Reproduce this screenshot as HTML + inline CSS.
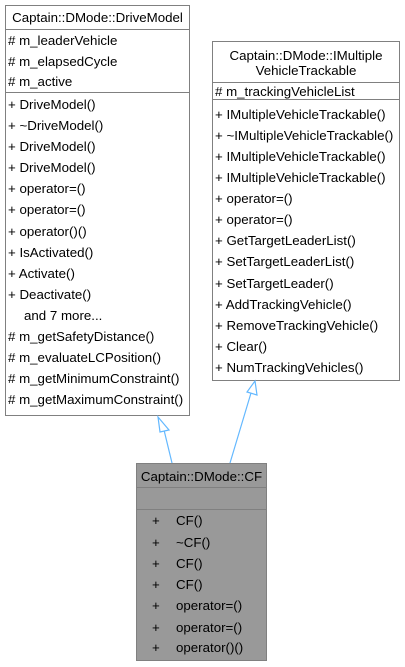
<!DOCTYPE html>
<html><head><meta charset="utf-8"><style>html,body{margin:0;padding:0;background:#fff}svg{display:block}</style></head>
<body>
<svg width="405" height="667" viewBox="0 0 405 667" xmlns="http://www.w3.org/2000/svg" font-family="Liberation Sans, Arial, sans-serif" font-size="13.3" fill="#000">
<!-- Box 1 -->
<rect x="5.5" y="5.5" width="184" height="410" fill="#fff" stroke="#808080"/>
<line x1="5.5" y1="29.5" x2="189.5" y2="29.5" stroke="#808080"/>
<line x1="5.5" y1="92.5" x2="189.5" y2="92.5" stroke="#808080"/>
<text x="97.5" y="22" text-anchor="middle">Captain::DMode::DriveModel</text>
<text x="8" y="45"># m_leaderVehicle</text>
<text x="8" y="66"># m_elapsedCycle</text>
<text x="8" y="86"># m_active</text>
<g>
<text x="8" y="109">+ DriveModel()</text>
<text x="8" y="130">+ ~DriveModel()</text>
<text x="8" y="151">+ DriveModel()</text>
<text x="8" y="172">+ DriveModel()</text>
<text x="8" y="193">+ operator=()</text>
<text x="8" y="214">+ operator=()</text>
<text x="8" y="236">+ operator()()</text>
<text x="8" y="257">+ IsActivated()</text>
<text x="8" y="278">+ Activate()</text>
<text x="8" y="299">+ Deactivate()</text>
<text x="24" y="320">and 7 more...</text>
<text x="8" y="341"># m_getSafetyDistance()</text>
<text x="8" y="362"># m_evaluateLCPosition()</text>
<text x="8" y="383"># m_getMinimumConstraint()</text>
<text x="8" y="404"># m_getMaximumConstraint()</text>
</g>
<!-- Box 2 -->
<rect x="212.5" y="41.5" width="187" height="339" fill="#fff" stroke="#808080"/>
<line x1="212.5" y1="82.5" x2="399.5" y2="82.5" stroke="#808080"/>
<line x1="212.5" y1="99.5" x2="399.5" y2="99.5" stroke="#808080"/>
<text x="306" y="60" text-anchor="middle">Captain::DMode::IMultiple</text>
<text x="306" y="75" text-anchor="middle">VehicleTrackable</text>
<text x="215" y="96"># m_trackingVehicleList</text>
<text x="215" y="119">+ IMultipleVehicleTrackable()</text>
<text x="215" y="140">+ ~IMultipleVehicleTrackable()</text>
<text x="215" y="161">+ IMultipleVehicleTrackable()</text>
<text x="215" y="182">+ IMultipleVehicleTrackable()</text>
<text x="215" y="203">+ operator=()</text>
<text x="215" y="224">+ operator=()</text>
<text x="215" y="245">+ GetTargetLeaderList()</text>
<text x="215" y="266">+ SetTargetLeaderList()</text>
<text x="215" y="288">+ SetTargetLeader()</text>
<text x="215" y="309">+ AddTrackingVehicle()</text>
<text x="215" y="330">+ RemoveTrackingVehicle()</text>
<text x="215" y="351">+ Clear()</text>
<text x="215" y="372">+ NumTrackingVehicles()</text>
<!-- Box 3 -->
<rect x="136.5" y="463.5" width="130" height="197" fill="#999999" stroke="#808080"/>
<line x1="136.5" y1="487.5" x2="266.5" y2="487.5" stroke="#808080"/>
<line x1="136.5" y1="509.5" x2="266.5" y2="509.5" stroke="#808080"/>
<text x="201.5" y="481" text-anchor="middle">Captain::DMode::CF</text>
<g>
<text x="152" y="525">+</text><text x="176" y="525">CF()</text>
<text x="152" y="547">+</text><text x="176" y="547">~CF()</text>
<text x="152" y="568">+</text><text x="176" y="568">CF()</text>
<text x="152" y="589">+</text><text x="176" y="589">CF()</text>
<text x="152" y="610">+</text><text x="176" y="610">operator=()</text>
<text x="152" y="632">+</text><text x="176" y="632">operator=()</text>
<text x="152" y="652">+</text><text x="176" y="652">operator()()</text>
</g>
<!-- Arrows -->
<g stroke="#63b8ff" stroke-width="1.2" fill="#fff">
<line x1="172" y1="463" x2="164" y2="430"/>
<polygon points="158,417 169,430 160,432"/>
<line x1="230" y1="463" x2="251" y2="393"/>
<polygon points="255,381 257,395 247,392"/>
</g>
</svg>
</body></html>
